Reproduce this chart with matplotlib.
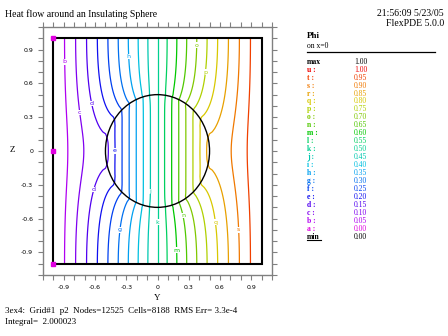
#!/usr/bin/env python3
"""FlexPDE style contour plot: heat flow around an insulating sphere (slice x=0)."""

import matplotlib

matplotlib.use("Agg")
import matplotlib.pyplot as plt
import numpy as np
from matplotlib.patches import Circle, Rectangle


TITLE = "Heat flow around an Insulating Sphere"
STAMP = "21:56:09 5/23/05"
VERSION = "FlexPDE 5.0.0"
FOOTER_1 = "3ex4:  Grid#1  p2  Nodes=12525  Cells=8188  RMS Err= 3.3e-4"
FOOTER_2 = "Integral=  2.000023"

# legend, top to bottom
LEVEL_NAMES = ["u", "t", "s", "r", "q", "p", "o", "n", "m", "l", "k",
               "j", "i", "h", "g", "f", "e", "d", "c", "b", "a"]
LEVEL_VALUES = [1.00, 0.95, 0.90, 0.85, 0.80, 0.75, 0.70, 0.65, 0.60, 0.55, 0.50,
                0.45, 0.40, 0.35, 0.30, 0.25, 0.20, 0.15, 0.10, 0.05, 0.00]
LEVEL_COLORS = ["#f00000", "#f04000", "#f07800", "#e8a000", "#d8c800", "#b0d000",
                "#80c800", "#50c800", "#00c800", "#00d060", "#00d090", "#00c8b0",
                "#00c0e0", "#00a0f0", "#0070f0", "#0040f0", "#1010f0", "#5000f0",
                "#8000f0", "#b000f0", "#e000e0"]
PHI_MAX = 1.00
PHI_MIN = 0.00

# problem set-up: box [-1,1]^3, phi=0 at y=-1, phi=1 at y=1, sphere in the middle
SPHERE_RADIUS = 0.5
K_OUTSIDE = 1.0
K_SPHERE = 0.001

TICK_VALUES = [-0.9, -0.6, -0.3, 0.0, 0.3, 0.6, 0.9]
TICK_LABELS = ["-0.9", "-0.6", "-0.3", "0", "0.3", "0.6", "0.9"]

# contour tags seen on the plot: (letter, approx y, z)
TAGS = [("b", -0.90, 0.79), ("h", -0.28, 0.84), ("d", -0.65, 0.42), ("c", -0.75, 0.34),
        ("e", -0.42, 0.00), ("d", -0.63, -0.34), ("g", -0.37, -0.70), ("j", -0.07, -0.36),
        ("k", -0.02, -0.63), ("o", 0.37, 0.94), ("p", 0.46, 0.70), ("n", 0.23, -0.57),
        ("m", 0.19, -0.88), ("q", 0.54, -0.63), ("s", 0.77, -0.70)]
EDGE_TAGS_Z = [1.0, 0.0, -1.0]


def solve_slice(n: int = 40, sweeps: int = 600, omega: float = 1.9):
    """Red-black SOR on one octant (x>=0, y<=0, z>=0), returns phi on x=0."""
    h = 1.0 / n
    s = np.arange(n + 1) * h
    X, Yg, Zg = np.meshgrid(s, s - 1.0, s, indexing="ij")
    k = np.where(np.sqrt(X**2 + Yg**2 + Zg**2) < SPHERE_RADIUS, K_SPHERE, K_OUTSIDE)
    kp = np.pad(k, 1, mode="reflect")
    c = kp[1:-1, 1:-1, 1:-1]

    def face(nb):
        return 2.0 * c * nb / (c + nb)

    kxm, kxp = face(kp[:-2, 1:-1, 1:-1]), face(kp[2:, 1:-1, 1:-1])
    kym, kyp = face(kp[1:-1, :-2, 1:-1]), face(kp[1:-1, 2:, 1:-1])
    kzm, kzp = face(kp[1:-1, 1:-1, :-2]), face(kp[1:-1, 1:-1, 2:])
    ksum = kxm + kxp + kym + kyp + kzm + kzp

    P = np.pad(0.5 + 0.5 * Yg, 1, mode="reflect")
    I, J, K = np.indices(k.shape)
    free = (J > 0) & (J < n)
    masks = [(free & ((I + J + K) % 2 == p)).astype(float) * omega for p in (0, 1)]

    core = P[1:-1, 1:-1, 1:-1]
    for _ in range(sweeps):
        for m in masks:
            P[0] = P[2]
            P[-1] = P[-3]
            P[:, :, 0] = P[:, :, 2]
            P[:, :, -1] = P[:, :, -3]
            new = (kxm * P[:-2, 1:-1, 1:-1] + kxp * P[2:, 1:-1, 1:-1]
                   + kym * P[1:-1, :-2, 1:-1] + kyp * P[1:-1, 2:, 1:-1]
                   + kzm * P[1:-1, 1:-1, :-2] + kzp * P[1:-1, 1:-1, 2:]) / ksum
            core += m * (new - core)

    q = core[0]  # [y, z] with y in [-1,0], z in [0,1]
    q = np.concatenate([q[:, :0:-1], q], axis=1)  # z in [-1,1]
    q = np.concatenate([q, 1.0 - q[-2::-1, :]], axis=0)  # y in [-1,1]
    axis = np.linspace(-1.0, 1.0, 2 * n + 1)
    return axis, q


def snap_tag(axis, phi, level, ty, tz):
    """Move a tag along its row onto the contour of its level."""
    row = phi[:, int(np.argmin(np.abs(axis - tz)))] - level
    idx = np.where(np.sign(row[:-1]) != np.sign(row[1:]))[0]
    if idx.size == 0:
        return ty
    cross = axis[idx] - row[idx] * (axis[idx + 1] - axis[idx]) / (row[idx + 1] - row[idx])
    return float(cross[np.argmin(np.abs(cross - ty))])


def main() -> None:
    axis, phi = solve_slice()
    yy, zz = np.meshgrid(axis, axis)

    fig = plt.figure(figsize=(4.48, 3.36), dpi=100)
    ax = fig.add_axes([43 / 448, 1 - 275 / 336, 229 / 448, 248 / 336])

    inner = list(zip(LEVEL_VALUES, LEVEL_COLORS))[1:-1][::-1]
    ax.contour(yy, zz, phi.T, levels=[v for v, _ in inner], colors=[col for _, col in inner],
               linewidths=0.9)

    ax.add_patch(Rectangle((-1, -1), 2, 2, fill=False, edgecolor="black", linewidth=1.5, zorder=4))
    ax.add_patch(Circle((0, 0), SPHERE_RADIUS, fill=False, edgecolor="black", linewidth=1.0, zorder=4))

    color_of = dict(zip(LEVEL_NAMES, LEVEL_COLORS))
    value_of = dict(zip(LEVEL_NAMES, LEVEL_VALUES))
    for letter, ty, tz in TAGS:
        ty = snap_tag(axis, phi, value_of[letter], ty, tz)
        ax.text(ty, tz, letter, color=color_of[letter], fontsize=4.5, family="DejaVu Sans",
                ha="center", va="center", zorder=5,
                bbox=dict(facecolor="white", edgecolor="none", pad=0.2))
    ax.plot([-1.0] * len(EDGE_TAGS_Z), EDGE_TAGS_Z, "s", color=color_of["a"], markersize=2.5,
            zorder=6, clip_on=False)

    ax.set_xlim(-1.1, 1.1)
    ax.set_ylim(-1.1, 1.1)
    for sp in ax.spines.values():
        sp.set_color("#808080")
        sp.set_linewidth(1.0)
    ax.set_xticks(TICK_VALUES)
    ax.set_xticklabels(TICK_LABELS)
    ax.set_yticks(TICK_VALUES)
    ax.set_yticklabels(TICK_LABELS)
    minor = np.arange(-11, 12) / 10
    ax.set_xticks(minor, minor=True)
    ax.set_yticks(minor, minor=True)
    ax.tick_params(which="both", direction="out", length=3.5, width=0.8, color="#808080",
                   top=True, right=True, labelsize=4.5, pad=3.5)

    serif = "Liberation Serif"
    fig.text(5 / 448, 1 - 14 / 336, TITLE, family=serif, fontsize=7, va="center")
    fig.text(444 / 448, 1 - 14 / 336, STAMP, family=serif, fontsize=7, va="center", ha="right")
    fig.text(444 / 448, 1 - 24 / 336, VERSION, family=serif, fontsize=7, va="center", ha="right")
    fig.text(5 / 448, 1 - 311 / 336, FOOTER_1, family=serif, fontsize=6.5, va="center")
    fig.text(5 / 448, 1 - 322 / 336, FOOTER_2, family=serif, fontsize=6.5, va="center")
    fig.text(157 / 448, 1 - 298 / 336, "Y", family=serif, fontsize=6.5, va="center", ha="center")
    fig.text(12 / 448, 1 - 150 / 336, "Z", family=serif, fontsize=6.5, va="center", ha="center")

    # legend panel
    fig.text(307 / 448, 1 - 36.5 / 336, "Phi", family=serif, fontsize=6.5, va="center",
             weight="bold")
    fig.text(307 / 448, 1 - 45.5 / 336, "on x=0", family=serif, fontsize=5.5, va="center")
    fig.add_artist(plt.Line2D([307 / 448, 435 / 448], [1 - 52.3 / 336] * 2, color="black",
                              linewidth=0.9))
    rows = [("max", PHI_MAX, "black")]
    rows += [(f"{n} :", v, col) for n, v, col in zip(LEVEL_NAMES, LEVEL_VALUES, LEVEL_COLORS)]
    rows += [("min", PHI_MIN, "black")]
    for i, (name, value, col) in enumerate(rows):
        ypx = 61.7 + 7.95 * i
        fig.text(307 / 448, 1 - ypx / 336, name, family=serif, fontsize=5.5, color=col,
                 va="center", weight="bold")
        fig.text(354 / 448, 1 - ypx / 336, f"{value:.2f}", family=serif, fontsize=5.5,
                 color=col, va="center")
    fig.add_artist(plt.Line2D([307 / 448, 321 / 448], [1 - 240 / 336] * 2, color="black",
                              linewidth=0.8))

    fig.savefig("out.png", dpi=100, facecolor="white")
    plt.close(fig)


if __name__ == "__main__":
    main()
